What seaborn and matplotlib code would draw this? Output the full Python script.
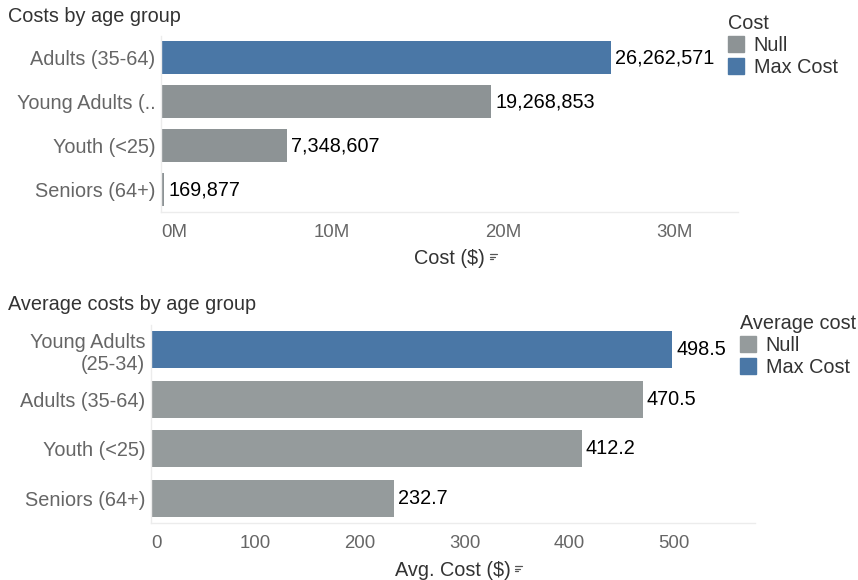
import matplotlib
matplotlib.use("Agg")
import matplotlib.pyplot as plt
import seaborn as sns
import pandas as pd
from matplotlib.patches import Patch
from matplotlib.lines import Line2D
from matplotlib.ticker import FuncFormatter

# ---------------- data ----------------
top_groups = ["Adults (35-64)", "Young Adults (..", "Youth (<25)", "Seniors (64+)"]
top_costs = [26262571, 19268853, 7348607, 169877]
top_flags = ["Max Cost", "Null", "Null", "Null"]

bottom_groups = ["Young Adults\n(25-34)", "Adults (35-64)", "Youth (<25)", "Seniors (64+)"]
avg_costs = [498.5, 470.5, 412.2, 232.7]
bottom_flags = ["Max Cost", "Null", "Null", "Null"]

top_ticks = [0, 10e6, 20e6, 30e6]
bottom_ticks = [0, 100, 200, 300, 400, 500]
legend_levels = ["Null", "Max Cost"]

# ---------------- style ----------------
sns.set_style("white")
plt.rcParams["font.family"] = ["Liberation Sans", "DejaVu Sans"]

W, H = 858, 580
fig = plt.figure(figsize=(W / 100, H / 100), dpi=100)
fig.patch.set_facecolor("white")

BLUE = "#4a77a6"
GREY_TOP = "#8d9395"
GREY_BOT = "#959b9c"
TICK_C = "#666666"
TITLE_C = "#333333"
FS = 14.3


def px_axes(left, top, right, bottom):
    return fig.add_axes([left / W, 1 - bottom / H, (right - left) / W, (bottom - top) / H])


def style_axes(ax):
    for s in ["top", "right"]:
        ax.spines[s].set_visible(False)
    for s in ["left", "bottom"]:
        ax.spines[s].set_color("#ececec")
        ax.spines[s].set_linewidth(1)
    ax.set_facecolor("white")
    ax.tick_params(axis="y", length=0, pad=4, labelsize=FS, labelcolor=TICK_C)
    ax.tick_params(axis="x", length=0, pad=9, labelsize=13.4, labelcolor=TICK_C)
    ax.set_ylabel("")


def sort_icon(x, y):
    for i, ln in enumerate([7, 5, 3]):
        yy = 1 - (y + i * 2.6) / H
        fig.add_artist(Line2D([x / W, (x + ln) / W], [yy, yy], transform=fig.transFigure,
                              color="#555555", lw=0.9))


# ---------------- top chart ----------------
df_top = pd.DataFrame({"group": top_groups, "cost": top_costs, "flag": top_flags})
ax1 = px_axes(161, 35.5, 738, 211.5)
sns.barplot(data=df_top, y="group", x="cost", hue="flag", order=top_groups,
            hue_order=legend_levels, palette={"Null": GREY_TOP, "Max Cost": BLUE},
            dodge=False, width=0.75, orient="h", linewidth=0, saturation=1, ax=ax1, legend=False)
ax1.set_xlim(0, 33.7e6)
ax1.set_xticks(top_ticks)
ax1.xaxis.set_major_formatter(FuncFormatter(lambda v, p: f"{v / 1e6:.0f}M"))
style_axes(ax1)
ax1.set_xlabel("Cost ($)", fontsize=FS, color=TITLE_C, labelpad=6)
for c in ax1.containers:
    ax1.bar_label(c, labels=[f"{w:,.0f}" if w == w and w > 0 else "" for w in c.datavalues],
                  padding=3, fontsize=FS, color="black")
tl = ax1.get_xticklabels()
tl[0].set_horizontalalignment("left")
fig.text(8 / W, 1 - 16 / H, "Costs by age group", fontsize=FS, color=TITLE_C, va="center", ha="left")

leg1 = ax1.legend(handles=[Patch(color=GREY_TOP, label="Null"), Patch(color=BLUE, label="Max Cost")],
                  title="Cost", loc="upper left", bbox_to_anchor=(720 / W, 1 - 6 / H),
                  bbox_transform=fig.transFigure, frameon=False, fontsize=FS, title_fontsize=FS,
                  handlelength=0.8, handleheight=0.8, handletextpad=0.5, labelspacing=0.15,
                  borderaxespad=0, alignment="left")
for t in leg1.get_texts():
    t.set_color(TITLE_C)
leg1.get_title().set_color(TITLE_C)

# ---------------- bottom chart ----------------
df_bot = pd.DataFrame({"group": bottom_groups, "avg": avg_costs, "flag": bottom_flags})
ax2 = px_axes(151, 325, 755, 523)
sns.barplot(data=df_bot, y="group", x="avg", hue="flag", order=bottom_groups,
            hue_order=legend_levels, palette={"Null": GREY_BOT, "Max Cost": BLUE},
            dodge=False, width=0.75, orient="h", linewidth=0, saturation=1, ax=ax2, legend=False)
ax2.set_xlim(0, 578)
ax2.set_xticks(bottom_ticks)
style_axes(ax2)
ax2.set_xlabel("Avg. Cost ($)", fontsize=FS, color=TITLE_C, labelpad=6)
for c in ax2.containers:
    ax2.bar_label(c, labels=[f"{w:.1f}" if w == w and w > 0 else "" for w in c.datavalues],
                  padding=3, fontsize=FS, color="black")
tl2 = ax2.get_xticklabels()
tl2[0].set_horizontalalignment("left")
fig.text(8 / W, 1 - 305 / H, "Average costs by age group", fontsize=FS, color=TITLE_C,
         va="center", ha="left")

leg2 = ax2.legend(handles=[Patch(color=GREY_BOT, label="Null"), Patch(color=BLUE, label="Max Cost")],
                  title="Average cost", loc="upper left", bbox_to_anchor=(732 / W, 1 - 306 / H),
                  bbox_transform=fig.transFigure, frameon=False, fontsize=FS, title_fontsize=FS,
                  handlelength=0.8, handleheight=0.8, handletextpad=0.5, labelspacing=0.15,
                  borderaxespad=0, alignment="left")
for t in leg2.get_texts():
    t.set_color(TITLE_C)
leg2.get_title().set_color(TITLE_C)

sort_icon(490, 254)
sort_icon(515, 566)

fig.savefig("out.png", dpi=100, facecolor=fig.get_facecolor())
